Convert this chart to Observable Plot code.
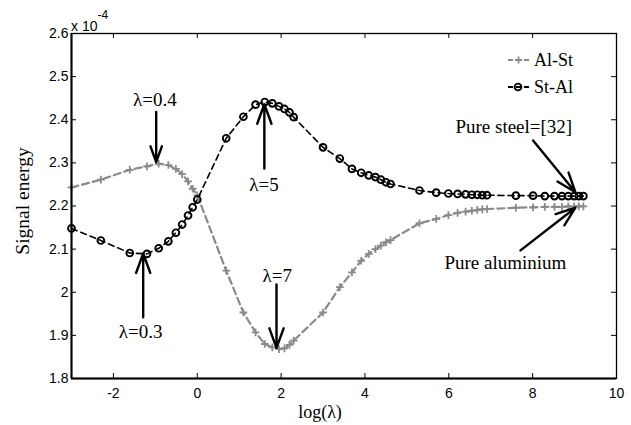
<!DOCTYPE html>
<html><head><meta charset="utf-8">
<script src="https://cdn.jsdelivr.net/npm/d3@7"></script>
<script src="https://cdn.jsdelivr.net/npm/@observablehq/plot@0.6"></script>
<style>body{margin:0;background:#fff} #chart{width:631px;height:425px}</style>
</head><body><div id="chart"></div>
<script>
// x = log(lambda)
const logLambda = [-3.00,-2.30,-1.61,-1.20,-0.92,-0.69,-0.51,-0.36,-0.22,-0.11,0.00,
  0.69,1.10,1.39,1.61,1.79,1.95,2.08,2.20,2.30,
  3.00,3.40,3.69,3.91,4.09,4.25,4.38,4.50,4.61,
  5.30,5.70,5.99,6.21,6.40,6.55,6.68,6.80,6.91,
  7.60,8.01,8.29,8.52,8.70,8.85,8.99,9.10,9.21];
// signal energy (x 10^-4)
const alSt = [2.243,2.261,2.284,2.292,2.298,2.295,2.286,2.274,2.257,2.240,2.225,
  2.050,1.953,1.907,1.880,1.872,1.868,1.870,1.878,1.888,
  1.953,2.012,2.046,2.073,2.089,2.100,2.108,2.116,2.121,
  2.160,2.170,2.179,2.184,2.187,2.189,2.191,2.192,2.193,
  2.196,2.197,2.198,2.198,2.198,2.199,2.199,2.199,2.199];
const stAl = [2.148,2.120,2.091,2.089,2.102,2.118,2.138,2.157,2.178,2.197,2.215,
  2.357,2.407,2.435,2.441,2.438,2.431,2.425,2.417,2.406,
  2.336,2.310,2.286,2.277,2.271,2.267,2.261,2.255,2.251,
  2.236,2.231,2.229,2.228,2.227,2.226,2.226,2.225,2.225,
  2.224,2.224,2.223,2.223,2.223,2.223,2.223,2.223,2.223];
const seriesNames = ["Al-St","St-Al"];
const xDomain = [-3,10];
const yDomain = [1.8,2.6];
const xTicks = [-2,0,2,4,6,8,10];
const xTickLabels = ["-2","0","2","4","6","8","10"];
const yTicks = [1.8,1.9,2.0,2.1,2.2,2.3,2.4,2.5,2.6];
const yTickLabels = ["1.8","1.9","2","2.1","2.2","2.3","2.4","2.5","2.6"];
// annotations (data coordinates)
const annoText = ["λ=0.4","λ=5","λ=0.3","λ=7","Pure steel=[32]","Pure aluminium"];
const annoTextX = [-1.01,1.59,-1.35,1.91,7.55,7.35];
const annoTextY = [2.447,2.248,1.907,2.037,2.384,2.069];
const arrowX1 = [-0.98,1.60,-1.29,1.89,8.01,7.71];
const arrowY1 = [2.418,2.287,1.942,2.018,2.352,2.097];
const arrowX2 = [-0.98,1.60,-1.29,1.89,9.02,9.02];
const arrowY2 = [2.302,2.436,2.090,1.871,2.232,2.196];

const W=631,H=425,mL=71,mR=15,mT=33,mB=47;
const plotW=W-mL-mR, plotH=H-mT-mB;
const serif="Liberation Serif, Times New Roman, serif";
const sans="Liberation Sans, Arial, sans-serif";
const grey="#8a8a8a";

const pts = logLambda.map((x,i)=>({x, a: alSt[i], s: stAl[i]}));
const annos = annoText.map((t,i)=>({t, x: annoTextX[i], y: annoTextY[i]}));
const arrows = arrowX1.map((x1,i)=>({x1, y1: arrowY1[i], x2: arrowX2[i], y2: arrowY2[i]}));
const fmtX = d => xTickLabels[xTicks.indexOf(d)];
const fmtY = d => yTickLabels[yTicks.findIndex(v=>Math.abs(v-d)<1e-9)];

const svg = Plot.plot({
  width: W, height: H, marginLeft: mL, marginRight: mR, marginTop: mT, marginBottom: mB,
  x: {domain: xDomain}, y: {domain: yDomain},
  style: {fontFamily: sans, fontSize: "14px", background: "#fff", color: "#000", overflow: "visible"},
  marks: [
    Plot.line(pts, {x: "x", y: "a", stroke: grey, strokeWidth: 2.2, strokeDasharray: "7,4"}),
    Plot.dot(pts, {x: "x", y: "a", symbol: "plus", r: 2.6, stroke: grey, strokeWidth: 1.8}),
    Plot.line(pts, {x: "x", y: "s", stroke: "#000", strokeWidth: 1.6, strokeDasharray: "6,4"}),
    Plot.dot(pts, {x: "x", y: "s", symbol: "circle", r: 3.4, stroke: "#000", strokeWidth: 1.9, fill: "none"}),
    Plot.arrow(arrows, {x1: "x1", y1: "y1", x2: "x2", y2: "y2", stroke: "#000", strokeWidth: 2.4, headLength: 13, headAngle: 40}),
    Plot.text(annos, {x: "x", y: "y", text: "t", fontFamily: serif, fontSize: 19, fill: "#000", lineAnchor: "middle", textAnchor: "middle"}),
    Plot.frame({stroke: "#000", strokeWidth: 1.3}),
    Plot.ruleX([xDomain[0]], {stroke: "#000", strokeWidth: 2}),
    Plot.ruleY([yDomain[0]], {stroke: "#000", strokeWidth: 2}),
    Plot.tickX(xTicks, {x: d=>d, insetTop: plotH-5, stroke: "#000", strokeWidth: 1}),
    Plot.tickX(xTicks, {x: d=>d, insetBottom: plotH-5, stroke: "#000", strokeWidth: 1}),
    Plot.tickY(yTicks, {y: d=>d, insetRight: plotW-5, stroke: "#000", strokeWidth: 1}),
    Plot.tickY(yTicks, {y: d=>d, insetLeft: plotW-5, stroke: "#000", strokeWidth: 1}),
    Plot.axisX({ticks: xTicks, tickFormat: fmtX, tickSize: 0, tickPadding: 10, label: null, fontSize: 14}),
    Plot.axisY({ticks: yTicks, tickFormat: fmtY, tickSize: 0, tickPadding: 3, label: null, fontSize: 14})
  ]
});
document.getElementById("chart").appendChild(svg);

const s = d3.select(svg);
// exponent label
const ex = s.append("text").attr("x", mL).attr("y", 31).attr("text-anchor","start")
  .attr("font-family", sans).attr("font-size", 14).attr("fill","#000");
ex.append("tspan").text("x 10");
ex.append("tspan").attr("dy", -12).attr("font-size", 12).text("-4");
// axis labels
s.append("text").attr("x", 320).attr("y", 418).attr("text-anchor","middle")
  .attr("font-family", serif).attr("font-size", 18).attr("fill","#000").text("log(λ)");
s.append("text").attr("transform","translate(29,201) rotate(-90)").attr("text-anchor","middle")
  .attr("font-family", serif).attr("font-size", 19.5).attr("fill","#000").text("Signal energy");
// legend
const lg = s.append("g");
[{n: seriesNames[0], c: grey, sw: 2.2, y: 60, m: "plus"},{n: seriesNames[1], c: "#000", sw: 1.8, y: 87, m: "circle"}].forEach(d => {
  lg.append("line").attr("x1",508).attr("x2",529).attr("y1",d.y).attr("y2",d.y)
    .attr("stroke",d.c).attr("stroke-width",d.sw).attr("stroke-dasharray","5,3");
  if (d.m === "plus") {
    lg.append("path").attr("d",`M515,${d.y}h7M518.5,${d.y-3.5}v7`).attr("stroke",d.c).attr("stroke-width",1.8);
  } else {
    lg.append("circle").attr("cx",518).attr("cy",d.y).attr("r",3.4).attr("fill","none").attr("stroke",d.c).attr("stroke-width",1.9);
  }
  lg.append("text").attr("x",534).attr("y",d.y).attr("dy","0.35em").attr("text-anchor","start")
    .attr("font-family",serif).attr("font-size",18).attr("fill","#000").text(d.n);
});
</script></body></html>
